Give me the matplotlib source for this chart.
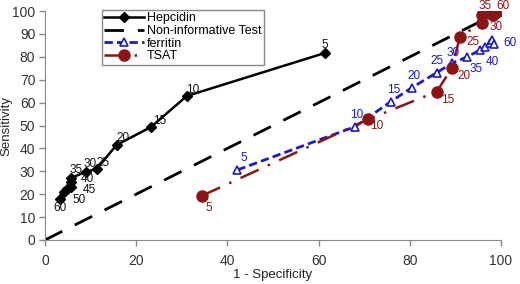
import numpy as np
import matplotlib
matplotlib.use('Agg')
import matplotlib.pyplot as plt

plt.rcParams['font.family'] = ['Liberation Sans', 'DejaVu Sans']

# cut-off labels (percentile)
cutoffs = [5, 10, 15, 20, 25, 30, 35, 40, 45, 50, 55, 60]

# hepcidin ROC points (1 - specificity, sensitivity)
hep_x = [61.4, 31.1, 23.2, 15.7, 11.3, 9.0, 5.6, 5.6, 5.6, 4.8, 4.2, 3.3]
hep_y = [81.7, 62.9, 49.3, 41.5, 31.0, 29.8, 27.0, 25.5, 23.3, 22.1, 21.0, 17.9]
hep_labels = ['5', '10', '15', '20', '25', '30', '35', '40', '45', '50', '', '60']

# ferritin
fer_x = [42.2, 68.0, 75.8, 80.4, 85.9, 89.2, 92.6, 95.4, 96.5, 97.6, 98.0, 98.4]
fer_y = [30.6, 49.5, 60.4, 66.5, 73.1, 77.2, 80.0, 83.0, 84.4, 85.9, 87.3, 85.5]
fer_labels = ['5', '10', '15', '20', '25', '30', '35', '40', '', '', '', '60']

# TSAT
tsat_x = [34.4, 70.9, 85.9, 89.2, 91.0, 95.8, 95.8, 97.6, 98.3, 98.7, 99.0, 99.4]
tsat_y = [19.3, 52.7, 64.8, 75.0, 88.8, 94.9, 98.3, 99.0, 98.3, 99.4, 99.7, 100.0]
tsat_labels = ['5', '10', '15', '20', '25', '30', '35', '', '', '', '', '60']

ref_line = [0, 100]

fig = plt.figure(figsize=(5.2, 2.84), dpi=100)
ax = fig.add_axes([0.0865, 0.155, 0.877, 0.806])

red = '#8b1515'
blue = '#1a1acc'

ax.plot(hep_x, hep_y, color='black', lw=1.8, marker='D', ms=5, label='Hepcidin', zorder=4)
ax.plot(ref_line, ref_line, color='black', lw=2, dashes=(7, 5), label='Non-informative Test', zorder=2)
ax.plot(fer_x, fer_y, color=blue, lw=2, dashes=(3, 1.5), marker='^', ms=6,
        mfc='white', mec=blue, mew=1.2, label='ferritin', zorder=3)
ax.plot(tsat_x, tsat_y, color=red, lw=1.8, dashes=(8, 4, 1, 4), marker='o', ms=8,
        label='TSAT', zorder=3)

# label offsets in pixels
hep_off = [(0, 8), (6, 6), (9, 6), (6, 7), (6, 6), (4, 8), (6, 8), (17, 3), (19, -3), (12, -11), (0, 0), (0, -9)]
fer_off = [(6, 12), (2, 12), (3, 12), (2, 12), (0, 12), (1, 10), (9, -12), (12, -12), (0, 0), (0, 0), (0, 0), (16, 1)]
tsat_off = [(7, -12), (8, -7), (11, -8), (12, -8), (13, -5), (14, -4), (3, 9), (0, 0), (0, 0), (0, 0), (0, 0), (5, 5)]

for xs, ys, labs, offs, col in [(hep_x, hep_y, hep_labels, hep_off, '#111111'),
                                (fer_x, fer_y, fer_labels, fer_off, blue),
                                (tsat_x, tsat_y, tsat_labels, tsat_off, red)]:
    for x, y, t, o in zip(xs, ys, labs, offs):
        if t:
            ax.annotate(t, (x, y), xytext=o, textcoords='offset pixels',
                        ha='center', va='center', fontsize=8.5, color=col, zorder=5)

ax.set_xlim(0, 100)
ax.set_ylim(0, 100)
ax.set_xticks(np.arange(0, 101, 20))
ax.set_yticks(np.arange(0, 101, 10))
ax.tick_params(colors='#333333', labelsize=10, length=4, width=1, color='#888888')
ax.tick_params(axis='x', pad=6)
ax.tick_params(axis='y', pad=3)
for s in ['top', 'right']:
    ax.spines[s].set_visible(False)
for s in ['left', 'bottom']:
    ax.spines[s].set_color('#888888')
ax.set_xlabel('1 - Specificity', fontsize=9.5, color='#222222', labelpad=1)
ax.set_ylabel('Sensitivity', fontsize=9.5, color='#222222')
ax.yaxis.set_label_coords(-0.072, 0.5)

leg = ax.legend(loc='upper left', bbox_to_anchor=(0.125, 1.005), fontsize=9,
                handlelength=3.2, handletextpad=0.2, borderpad=0.2, labelspacing=0.05,
                fancybox=False, framealpha=1, borderaxespad=0)
leg.get_frame().set_edgecolor('#888888')

fig.savefig('out.png', dpi=100)
